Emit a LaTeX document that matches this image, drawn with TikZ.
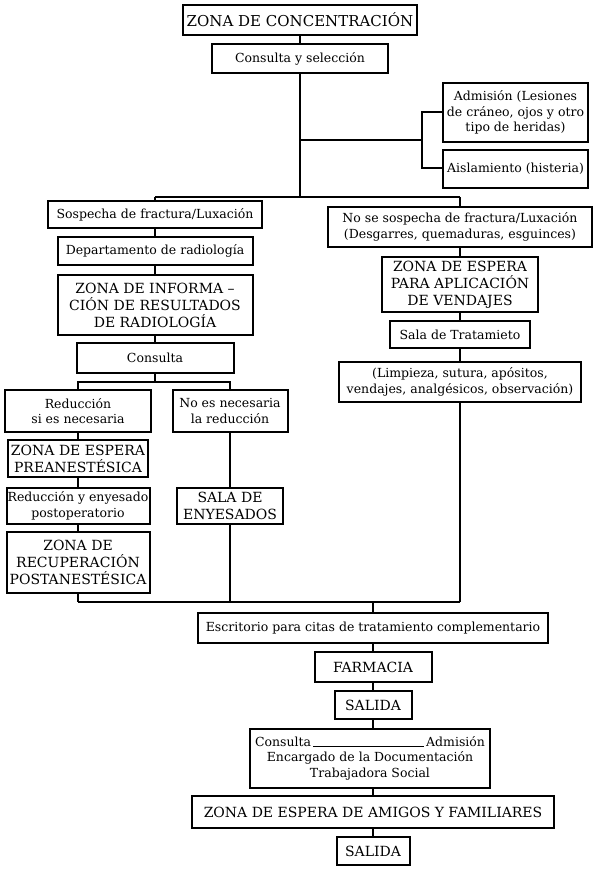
\documentclass[tikz,border=0pt]{standalone}
\usepackage{fontspec}
\setmainfont{DejaVu Serif}
\usepackage{tikz}
\usetikzlibrary{positioning,calc}
\newcommand\capstxt{\fontsize{14}{17}\selectfont}
\newcommand\plaintxt{\fontsize{12.5}{15.5}\selectfont}

\begin{document}
\begin{tikzpicture}[x=1pt,y=-1pt,
  box/.style={draw,line width=2pt,align=center,inner sep=1pt,font=\plaintxt},
  capbox/.style={box,font=\capstxt},
  link/.style={line width=1.7pt}]
\fill[white] (0,0) rectangle (599,869);
\useasboundingbox (0,0) rectangle (599,869);
\node[capbox,minimum width=234pt,minimum height=30pt,font=\fontsize{15}{18}\selectfont] (conc) at (300,20) {ZONA DE CONCENTRACIÓN};
\node[box,minimum width=176pt,minimum height=29pt] (csel) at (300,58.5) {Consulta y selección};
\node[box,minimum width=145pt,minimum height=59pt,inner sep=0pt] (admi) at (515.5,112.5) {Admisión (Lesiones\\de cráneo, ojos y otro\\tipo de heridas)};
\node[box,minimum width=145pt,minimum height=38pt,inner sep=0pt] (aisl) at (515.5,169) {Aislamiento (histeria)};
\node[box,minimum width=214pt,minimum height=27pt] (sosp) at (155,214.5) {Sospecha de fractura/Luxación};
\node[box,minimum width=195pt,minimum height=28pt] (dept) at (155,251) {Departamento de radiología};
\node[capbox,minimum width=195pt,minimum height=60pt] (zinf) at (155,305) {ZONA DE INFORMA –\\CIÓN DE RESULTADOS\\DE RADIOLOGÍA};
\node[box,minimum width=157pt,minimum height=30pt] (cons) at (155,358) {Consulta};
\node[box,minimum width=146pt,minimum height=42pt] (redu) at (78,411) {Reducción\\si es necesaria};
\node[box,minimum width=115pt,minimum height=42pt] (noes) at (230,411) {No es necesaria\\la reducción};
\node[capbox,minimum width=140pt,minimum height=37pt] (zpre) at (78,458.5) {ZONA DE ESPERA\\PREANESTÉSICA};
\node[box,minimum width=143pt,minimum height=36pt,inner sep=0pt] (renv) at (78,506) {Reducción y enyesado\\postoperatorio};
\node[capbox,minimum width=143pt,minimum height=61pt,inner sep=0pt] (zrec) at (78,562.5) {ZONA DE\\RECUPERACIÓN\\POSTANESTÉSICA};
\node[capbox,minimum width=106pt,minimum height=36pt] (sala) at (230,506) {SALA DE\\ENYESADOS};
\node[box,minimum width=264pt,minimum height=40pt] (nosp) at (460,227) {No se sospecha de fractura/Luxación\\(Desgarres, quemaduras, esguinces)};
\node[capbox,minimum width=156pt,minimum height=55pt] (zesp) at (460,284.5) {ZONA DE ESPERA\\PARA APLICACIÓN\\DE VENDAJES};
\node[box,minimum width=140pt,minimum height=27pt] (stra) at (460,334.5) {Sala de Tratamieto};
\node[box,minimum width=242pt,minimum height=40pt] (limp) at (460,382) {(Limpieza, sutura, apósitos,\\vendajes, analgésicos, observación)};
\node[box,minimum width=350pt,minimum height=30pt] (escr) at (373,628) {Escritorio para citas de tratamiento complementario};
\node[capbox,minimum width=117pt,minimum height=30pt] (farm) at (373,667) {FARMACIA};
\node[capbox,minimum width=77pt,minimum height=28pt] (sal1) at (373,705) {SALIDA};
\node[box,minimum width=240pt,minimum height=59pt] (cadm) at (370,758) {\makebox[230pt]{Consulta\,\hrulefill\,Admisión}\\Encargado de la Documentación\\Trabajadora Social};
\node[capbox,minimum width=362pt,minimum height=32pt] (zami) at (373,812) {ZONA DE ESPERA DE AMIGOS Y FAMILIARES};
\node[capbox,minimum width=73pt,minimum height=28pt] (sal2) at (373,851) {SALIDA};
\coordinate (splitT) at (300,197);
\coordinate (splitL) at (155,197);
\coordinate (splitR) at (460,197);
\coordinate (branch) at (300,140);
\coordinate (brk) at (422,140);
\coordinate (brkT) at (422,112);
\coordinate (brkB) at (422,168);
\coordinate (lsplit) at (155,382);
\coordinate (lrowL) at (78,382);
\coordinate (lrowR) at (230,382);
\coordinate (joinL) at (78,602);
\coordinate (joinM) at (230,602);
\coordinate (joinR) at (460,602);
\coordinate (joinB) at (373,602);
\draw[link] (conc) -- (csel);
\draw[link] (csel) -- (splitT);
\draw[link] (branch) -- (brk);
\draw[link] (brkT -| admi.west) -- (brkT) -- (brkB) -- (brkB -| aisl.west);
\draw[link] (splitL) -- (splitR);
\draw[link] (splitL) -- (sosp); \draw[link] (splitR) -- (nosp);
\draw[link] (sosp) -- (dept); \draw[link] (dept) -- (zinf);
\draw[link] (zinf) -- (cons); \draw[link] (cons) -- (lsplit);
\draw[link] (redu) -- (lrowL) -- (lrowR) -- (noes);
\draw[link] (redu) -- (zpre); \draw[link] (zpre) -- (renv);
\draw[link] (renv) -- (zrec); \draw[link] (zrec) -- (joinL);
\draw[link] (noes) -- (sala); \draw[link] (sala) -- (joinM);
\draw[link] (nosp) -- (zesp); \draw[link] (zesp) -- (stra);
\draw[link] (stra) -- (limp); \draw[link] (limp) -- (joinR);
\draw[link] (joinL) -- (joinR);
\draw[link] (joinB) -- (escr);
\draw[link] (escr) -- (farm); \draw[link] (farm) -- (sal1);
\draw[link] (sal1) -- (sal1 |- cadm.north);
\draw[link] (cadm.south -| sal1) -- (zami); \draw[link] (zami) -- (sal2);
\end{tikzpicture}
\end{document}
